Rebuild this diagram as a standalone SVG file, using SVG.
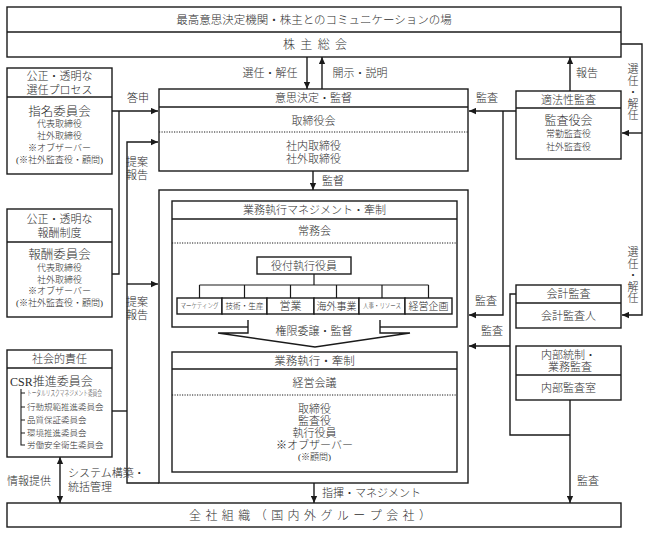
<svg xmlns="http://www.w3.org/2000/svg" width="648" height="534" viewBox="0 0 648 534">
<defs>
<style>
.b{fill:#fff;stroke:#1a1a1a;stroke-width:1.4}
.ln{fill:none;stroke:#1a1a1a;stroke-width:1.4}
.dot{fill:none;stroke:#1a1a1a;stroke-width:1;stroke-dasharray:1.2 1.3}
text{font-family:"Liberation Serif","Noto Sans CJK JP",serif;fill:#2e2e2e;font-size:11px;font-weight:300;text-anchor:middle;dominant-baseline:central}
.s9{font-size:9px}
.s8{font-size:8.5px}
.s12{font-size:12.5px}
.l{text-anchor:start}
.a{marker-end:url(#ah)}
</style>
<marker id="ah" viewBox="0 0 8 8" refX="8" refY="4" markerWidth="7" markerHeight="7" markerUnits="userSpaceOnUse" orient="auto-start-reverse">
<path d="M0,0.4 L8,4 L0,7.6 z" fill="#1a1a1a"/>
</marker>
</defs>
<rect width="648" height="534" fill="#fff"/>

<g id="connectors">
<path class="ln a" d="M307,57 V89"/>
<path class="ln a" d="M322,89 V57"/>
<path class="ln a" d="M570,91 V57"/>
<path class="ln a" d="M621,44 H642 V315 H622"/>
<path class="ln a" d="M642,133 H622"/>
<path class="ln a" d="M516,111 H469"/>
<path class="ln a" d="M503,111 V315 H469"/>
<path class="ln" d="M516,294 H510 V435 H570"/>
<path class="ln a" d="M510,346 H469"/>
<path class="ln a" d="M570,400 V503"/>
<path class="ln a" d="M313,171 V190"/>
<path class="ln a" d="M314,483 V503"/>
<path class="ln a" d="M112,111 H158"/>
<path class="ln" d="M119,111 V274 H112"/>
<path class="ln a" d="M159,483 H127 V142 H158"/>
<path class="ln a" d="M127,284 H158"/>
<path class="ln" d="M112,411 H127"/>
<path class="ln" d="M60,457 V503" marker-start="url(#ah)" marker-end="url(#ah)"/>
</g>

<g id="top">
<rect class="b" x="7" y="7" width="614" height="50"/>
<line class="ln" x1="7" y1="32" x2="621" y2="32"/>
<text x="314" y="20" style="font-size:11.5px">最高意思決定機関・株主とのコミュニケーションの場</text>
<text x="315" y="45" style="font-size:12px" textLength="64" lengthAdjust="spacing">株 主 総 会</text>
</g>

<g id="nomination">
<rect class="b" x="7" y="68" width="105" height="106"/>
<line class="ln" x1="7" y1="97" x2="112" y2="97"/>
<text x="59.5" y="76">公正・透明な</text>
<text x="59.5" y="90">選任プロセス</text>
<text class="s12" x="59.5" y="112">指名委員会</text>
<text class="s9" x="59.5" y="124">代表取締役</text>
<text class="s9" x="59.5" y="136">社外取締役</text>
<text class="s9" x="59.5" y="148">※オブザーバー</text>
<text class="s9" x="59.5" y="160">(※社外監査役・顧問)</text>
</g>

<g id="compensation">
<rect class="b" x="7" y="209" width="105" height="108"/>
<line class="ln" x1="7" y1="242" x2="112" y2="242"/>
<text x="59.5" y="219">公正・透明な</text>
<text x="59.5" y="233">報酬制度</text>
<text class="s12" x="59.5" y="255">報酬委員会</text>
<text class="s9" x="59.5" y="268">代表取締役</text>
<text class="s9" x="59.5" y="280">社外取締役</text>
<text class="s9" x="59.5" y="291">※オブザーバー</text>
<text class="s9" x="59.5" y="303">(※社外監査役・顧問)</text>
</g>

<g id="csr">
<rect class="b" x="7" y="350" width="105" height="107"/>
<line class="ln" x1="7" y1="368" x2="112" y2="368"/>
<text x="59.5" y="359">社会的責任</text>
<text class="l" x="10" y="382" style="font-size:12px">CSR推進委員会</text>
<path class="ln" style="stroke-width:1.1" d="M21,389 V445 H25 M21,393 H25 M21,407 H25 M21,420 H25 M21,433 H25"/>
<text class="l" x="27" y="393" style="font-size:7.5px" textLength="75" lengthAdjust="spacingAndGlyphs">トータルリスクマネジメント委員会</text>
<text class="l s8" x="27" y="407">行動規範推進委員会</text>
<text class="l s8" x="27" y="420">品質保証委員会</text>
<text class="l s8" x="27" y="433">環境推進委員会</text>
<text class="l s8" x="27" y="445">労働安全衛生委員会</text>
</g>

<g id="board">
<rect class="b" x="159" y="89" width="309" height="82"/>
<line class="ln" x1="159" y1="107" x2="468" y2="107"/>
<line class="dot" x1="159" y1="132" x2="468" y2="132"/>
<text x="313.5" y="98">意思決定・監督</text>
<text x="313.5" y="121">取締役会</text>
<text x="313.5" y="146">社内取締役</text>
<text x="313.5" y="159">社外取締役</text>
</g>

<g id="execution">
<rect class="b" x="159" y="190" width="309" height="293"/>
</g>

<g id="executive-committee">
<rect class="b" x="172" y="201" width="285" height="126"/>
<line class="ln" x1="172" y1="219" x2="457" y2="219"/>
<line class="dot" x1="172" y1="243" x2="457" y2="243"/>
<text x="314.5" y="210">業務執行マネジメント・牽制</text>
<text x="314.5" y="231">常務会</text>
<path class="ln" style="stroke-width:1.2" d="M314,274 V285 M199.5,285 H428.5 M199.5,285 V298 M244.5,285 V298 M290.5,285 V298 M336.5,285 V298 M382,285 V298 M428.5,285 V298"/>
</g>

<g id="senior-officers">
<rect class="b" x="257" y="257" width="94" height="17"/>
<text x="304" y="265.5">役付執行役員</text>
</g>

<g id="divisions">
<rect class="b" x="177" y="298" width="45" height="16"/>
<rect class="b" x="222" y="298" width="45" height="16"/>
<rect class="b" x="267" y="298" width="47" height="16"/>
<rect class="b" x="314" y="298" width="45" height="16"/>
<rect class="b" x="359" y="298" width="46" height="16"/>
<rect class="b" x="405" y="298" width="47" height="16"/>
<text x="199.5" y="306" style="font-size:7px" textLength="38" lengthAdjust="spacingAndGlyphs">マーケティング</text>
<text x="244.5" y="306" style="font-size:8.5px" textLength="38" lengthAdjust="spacingAndGlyphs">技術・生産</text>
<text x="290.5" y="306">営業</text>
<text x="336.5" y="306" style="font-size:10px">海外事業</text>
<text x="382" y="306" style="font-size:7px" textLength="38" lengthAdjust="spacingAndGlyphs">人事・リソース</text>
<text x="428.5" y="306" style="font-size:10px">経営企画</text>
</g>

<g id="delegation">
<polygon points="248,320 380,320 380,333 410,333 315,347 218,333 248,333" fill="#fff" stroke="none"/>
<polyline class="ln" points="248,320 248,333 218,333 315,347 410,333 380,333 380,320"/>
<text x="314" y="331">権限委譲・監督</text>
</g>

<g id="management-meeting">
<rect class="b" x="172" y="352" width="285" height="120"/>
<line class="ln" x1="172" y1="369" x2="457" y2="369"/>
<line class="dot" x1="172" y1="395" x2="457" y2="395"/>
<text x="314.5" y="361" style="font-size:11.5px">業務執行・牽制</text>
<text x="314.5" y="383">経営会議</text>
<text x="314.5" y="409">取締役</text>
<text x="314.5" y="421">監査役</text>
<text x="314.5" y="433">執行役員</text>
<text x="314.5" y="445">※オブザーバー</text>
<text class="s9" x="314.5" y="457">(※顧問)</text>
</g>

<g id="audit-board">
<rect class="b" x="516" y="91" width="105" height="68"/>
<line class="ln" x1="516" y1="108" x2="621" y2="108"/>
<text x="568.5" y="99.5">適法性監査</text>
<text x="568.5" y="121" style="font-size:12px">監査役会</text>
<text class="s9" x="568.5" y="134">常勤監査役</text>
<text class="s9" x="568.5" y="147">社外監査役</text>
</g>

<g id="accounting-audit">
<rect class="b" x="516" y="285" width="105" height="43"/>
<line class="ln" x1="516" y1="303" x2="621" y2="303"/>
<text x="568.5" y="294">会計監査</text>
<text x="568.5" y="316">会計監査人</text>
</g>

<g id="internal-audit">
<rect class="b" x="516" y="346" width="105" height="54"/>
<line class="ln" x1="516" y1="375" x2="621" y2="375"/>
<text x="568.5" y="355">内部統制・</text>
<text x="570" y="367">業務監査</text>
<text x="568.5" y="388">内部監査室</text>
</g>

<g id="organization">
<rect class="b" x="7" y="503" width="614" height="24"/>
<text x="310" y="516" style="font-size:12px" textLength="242" lengthAdjust="spacing">全 社 組 織 （ 国 内 外 グ ル ー プ 会 社 ）</text>
</g>

<g id="labels">
<text x="270" y="73">選任・解任</text>
<text x="360" y="73">開示・説明</text>
<text x="587" y="73">報告</text>
<text x="138" y="98">答申</text>
<text x="137" y="162">提案</text>
<text x="137" y="175">報告</text>
<text x="137" y="302">提案</text>
<text x="137" y="315">報告</text>
<text class="l" x="322" y="181">監督</text>
<text x="487" y="98">監査</text>
<text x="486" y="301">監査</text>
<text x="492" y="331">監査</text>
<text x="588" y="481">監査</text>
<text class="l" x="322" y="493">指揮・マネジメント</text>
<text x="29" y="481">情報提供</text>
<text class="l" x="68" y="473">システム構築・</text>
<text class="l" x="68" y="487">統括管理</text>
<text x="633"><tspan x="633" y="69">選</tspan><tspan x="633" y="80.5">任</tspan><tspan x="633" y="92">・</tspan><tspan x="633" y="103.5">解</tspan><tspan x="633" y="115">任</tspan></text>
<text x="633"><tspan x="633" y="252">選</tspan><tspan x="633" y="263.5">任</tspan><tspan x="633" y="275">・</tspan><tspan x="633" y="286.5">解</tspan><tspan x="633" y="298">任</tspan></text>
</g>
</svg>
